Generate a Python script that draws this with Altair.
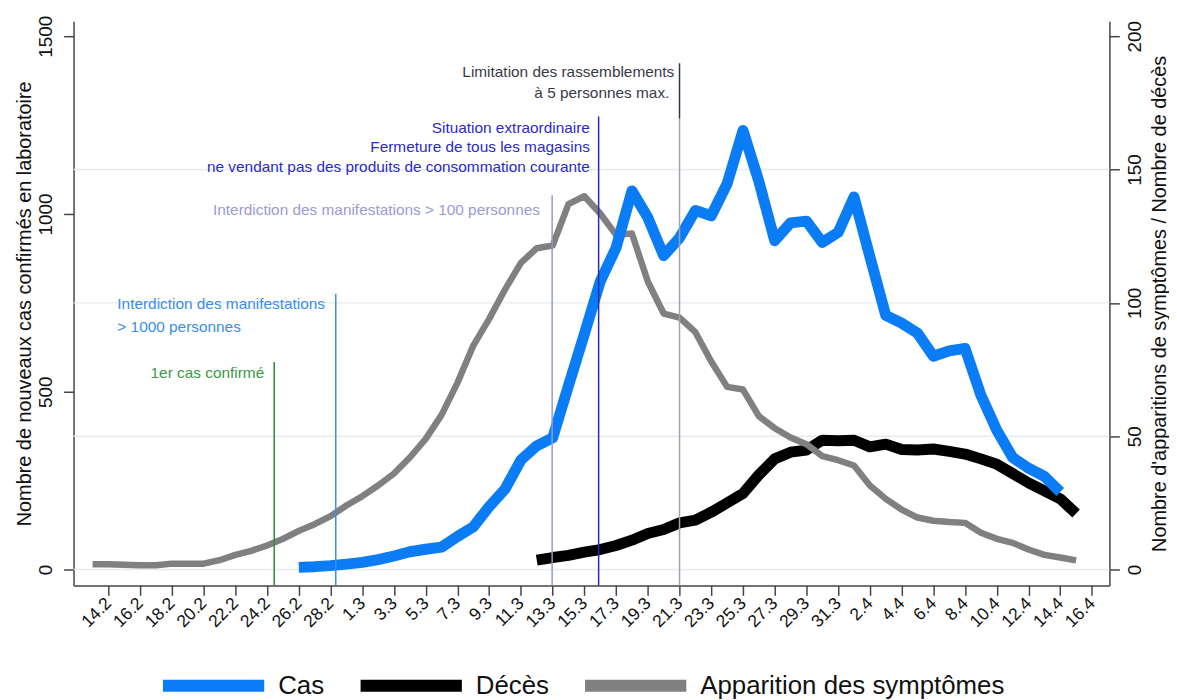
import json
import altair as alt
import pandas as pd

# ---------------- data (x = days counted from 14.2.2020) ----------------
tick_labels = ["14.2", "16.2", "18.2", "20.2", "22.2", "24.2", "26.2", "28.2",
               "1.3", "3.3", "5.3", "7.3", "9.3", "11.3", "13.3", "15.3",
               "17.3", "19.3", "21.3", "23.3", "25.3", "27.3", "29.3", "31.3",
               "2.4", "4.4", "6.4", "8.4", "10.4", "12.4", "14.4", "16.4"]
tick_days = list(range(0, 63, 2))

series_names = ["Cas", "Décès", "Apparition des symptômes"]
series_colors = ["#0a7cf5", "#000000", "#808080"]

# new laboratory-confirmed cases (left axis), from 26.2
cas_start = 12
cas = [6, 8, 11, 15, 20, 28, 38, 50, 57, 63,
       93, 120, 177, 226, 308, 348, 370, 517, 662, 810,
       905, 1065, 990, 883, 933, 1010, 995, 1085, 1235, 1092,
       925, 975, 980, 920, 948, 1048, 880, 715, 693, 665,
       600, 615, 622, 490, 392, 315, 285, 262, 218]

# deaths (right axis), from 12.3
deces_start = 27
deces = [3.5, 4.5, 5.3, 6.5, 7.5, 9, 11, 13.5, 15, 17.5,
         18.5, 21.5, 25, 28.5, 35.5, 41.5, 44, 44.8, 48.5, 48.3,
         48.5, 46, 47, 45, 44.8, 45.2, 44.3, 43.3, 41.5, 39.5,
         36, 32.5, 29.5, 26.5, 21]

# symptom onsets (right axis), from 13.2
sympt_start = -1
symptomes = [2, 2, 1.8, 1.6, 1.6, 2.2, 2.2, 2.2, 3.5, 5.5,
             7, 9, 11.5, 14.5, 17, 20, 24, 27.5, 31.5, 36,
             42, 49, 58, 70, 84, 94, 105, 115, 120.5, 121.5,
             137, 140, 133.5, 125.5, 126, 108, 96, 94.5, 89, 78,
             68.5, 67.5, 57.5, 53, 49.5, 47, 42.5, 41, 39, 31.5,
             26.5, 22.5, 19.5, 18.3, 17.8, 17.5, 13.8, 11.5, 10, 7.5,
             5.5, 4.5, 3.4]

left_ticks = [0, 500, 1000, 1500]
right_ticks = [0, 50, 100, 150, 200]
grid_vals = [0, 50, 100, 150]

# event lines (day, top and bottom in left-axis units)
event_day = [10.45, 14.33, 27.97, 30.9, 36.0, 36.0]
event_top = [584, 776, 1053, 1274, 1424, 1268]
event_bottom = [-44.7, -44.7, -44.7, -44.7, 1268, -44.7]
event_color = ["#2f8a36", "#3a8ee8", "#9898cc", "#2a2ab0", "#35354a", "#a3a3ae"]

# annotations
ann_text = ["1er cas confirmé",
            "Interdiction des manifestations", "> 1000 personnes",
            "Interdiction des manifestations > 100 personnes",
            "Situation extraordinaire", "Fermeture de tous les magasins",
            "ne vendant pas des produits de consommation courante",
            "Limitation des rassemblements", "à 5 personnes max."]
ann_day = [9.82, 0.56, 0.56, 27.2, 30.35, 30.35, 30.35, 35.67, 35.36]
ann_val = [553, 746, 681, 1011, 1243, 1187, 1131, 1399, 1341]
ann_color = ["#3a9a46", "#3a8ee8", "#3a8ee8", "#9b9bd2", "#2b2bc8", "#2b2bc8",
             "#2b2bc8", "#3a3a48", "#3a3a48"]
ann_align = ["right", "left", "left", "right", "right", "right", "right",
             "right", "right"]

# ---------------- frames ----------------
def series_df(start, values, name):
    return pd.DataFrame({"day": [start + i for i in range(len(values))],
                         "value": values, "series": name})

df_cas = series_df(cas_start, cas, series_names[0])
df_dec = series_df(deces_start, deces, series_names[1])
df_sym = series_df(sympt_start, symptomes, series_names[2])
df_grid = pd.DataFrame({"value": grid_vals})
df_ev = pd.DataFrame({"day": event_day, "value": event_top,
                      "bottom": event_bottom, "color": event_color})
df_ann = pd.DataFrame({"text": ann_text, "day": ann_day, "value": ann_val,
                       "color": ann_color, "align": ann_align})

# ---------------- scales / axes ----------------
FONT = "Liberation Sans"
AX = "#454545"
W, H = 1043, 568
xscale = alt.Scale(domain=[-2.2, 63.1], nice=False, zero=False)
lscale = alt.Scale(domain=[-44.7, 1542], nice=False, zero=False)
rscale = alt.Scale(domain=[-5.96, 205.6], nice=False, zero=False)

label_expr = json.dumps(tick_labels) + "[round(datum.value / 2)]"
x_axis = alt.Axis(values=tick_days, labelExpr=label_expr, title=None,
                  labelAngle=315, labelAlign="right", labelBaseline="middle",
                  labelFontSize=17.5, labelPadding=5, tickSize=10, tickWidth=1.5,
                  tickColor=AX, domainColor=AX, domainWidth=1.5, grid=False,
                  labelColor="#111", labelFont=FONT, labelOverlap=False)

left_axis = alt.Axis(orient="left", values=left_ticks, format="d",
                     title="Nombre de nouveaux cas confirmés en laboratoire",
                     labelAngle=270, labelAlign="center", labelBaseline="bottom",
                     labelFontSize=19, labelPadding=8, tickSize=10, tickWidth=1.5,
                     tickColor=AX, domainColor=AX, domainWidth=1.5, grid=False,
                     titleFontSize=20, titleFontWeight="normal",
                     titleAngle=270, titleAlign="center", titleBaseline="middle",
                     titleX=-49, titleY=H / 2,
                     titleColor="#111", labelColor="#111", labelFont=FONT,
                     titleFont=FONT)

right_axis = alt.Axis(orient="right", values=right_ticks, format="d",
                      title="Nombre d'apparitions de symptômes / Nombre de décès",
                      labelAngle=270, labelAlign="center", labelBaseline="top",
                      labelFontSize=19, labelPadding=6, tickSize=10, tickWidth=1.5,
                      tickColor=AX, domainColor=AX, domainWidth=1.5, grid=False,
                      titleFontSize=20, titleFontWeight="normal",
                      titleAngle=270, titleAlign="center", titleBaseline="middle",
                      titleX=50, titleY=H / 2,
                      titleColor="#111", labelColor="#111",
                      labelFont=FONT, titleFont=FONT)

color_enc = alt.Color("series:N",
                      scale=alt.Scale(domain=series_names, range=series_colors),
                      legend=alt.Legend(title=None, orient="none", legendX=84,
                                        legendY=656, direction="horizontal",
                                        symbolType="stroke", symbolSize=10400,
                                        symbolStrokeWidth=12, clipHeight=26,
                                        labelFontSize=26, labelFont=FONT,
                                        labelColor="#111", labelOffset=8,
                                        labelLimit=0, columnPadding=30,
                                        padding=0))

X = alt.X("day:Q", scale=xscale, axis=x_axis)
YL = alt.Y("value:Q", scale=lscale, axis=left_axis)
YR = alt.Y("value:Q", scale=rscale, axis=right_axis)

# ---------------- right-axis layers ----------------
grid = alt.Chart(df_grid).mark_rule(color="#e3ebef", strokeWidth=1.5).encode(
    y=YR)

line_dec = alt.Chart(df_dec).mark_line(strokeWidth=11, strokeCap="butt",
                                       strokeJoin="round").encode(
    x=X, y=YR, color=color_enc)

line_sym = alt.Chart(df_sym).mark_line(strokeWidth=6.5, strokeCap="butt",
                                       strokeJoin="round").encode(
    x=X, y=YR, color=color_enc)

right_layer = alt.layer(grid, line_dec, line_sym)

# ---------------- left-axis layers ----------------
line_cas = alt.Chart(df_cas).mark_line(strokeWidth=11, strokeCap="butt",
                                       strokeJoin="round").encode(
    x=X, y=YL, color=color_enc)

events = alt.Chart(df_ev).mark_rule(strokeWidth=1.5).encode(
    x=X, y=YL, y2="bottom:Q",
    stroke=alt.Stroke("color:N", scale=None))

texts = []
for al in ["left", "right"]:
    texts.append(
        alt.Chart(df_ann[df_ann["align"] == al]).mark_text(
            align=al, baseline="middle", fontSize=15.5, font=FONT).encode(
            x=X, y=YL, text="text:N",
            fill=alt.Fill("color:N", scale=None)))

left_layer = alt.layer(line_cas, events, *texts)

chart = alt.layer(right_layer, left_layer).resolve_scale(
    y="independent"
).properties(
    width=W, height=H,
    padding={"left": 6, "top": 4, "right": 0, "bottom": 0},
    background="white",
).configure(font=FONT).configure_view(stroke=None)

chart.save("out.html", embed_options={"renderer": "svg", "actions": False})
